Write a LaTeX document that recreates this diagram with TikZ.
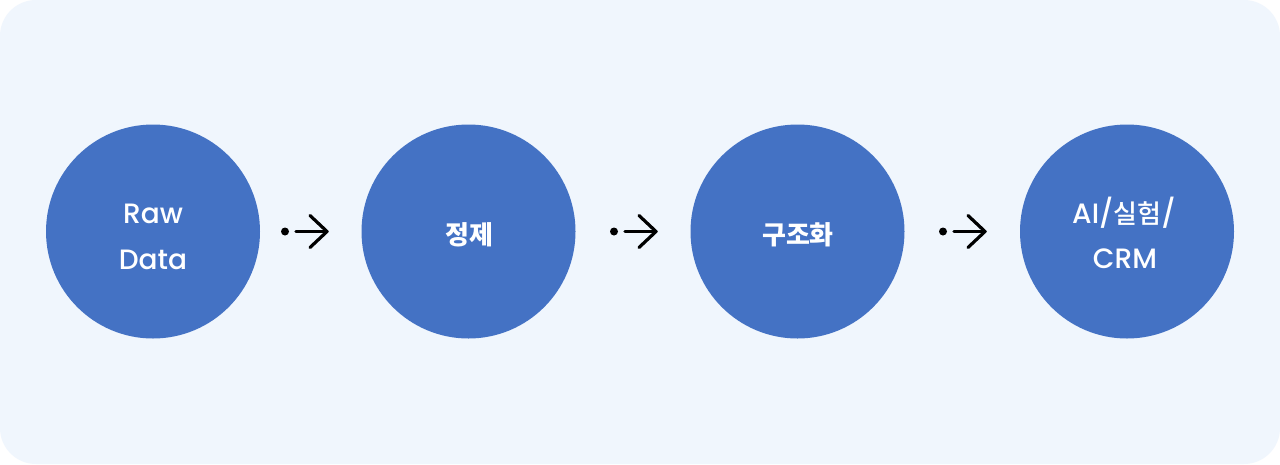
\documentclass[tikz,border=0pt]{standalone}
\usepackage{fontspec}
\setmainfont{Poppins Medium}
\newfontfamily\kr{Noto Sans CJK KR}
\newfontfamily\krm{Noto Sans CJK KR Medium}
\definecolor{bgpanel}{HTML}{F0F6FD}
\definecolor{stepblue}{HTML}{4472C4}
\begin{document}
\begin{tikzpicture}[x=1pt,y=-1pt,
  stagecircle/.style={circle,fill=stepblue,minimum size=214pt,inner sep=0pt},
  lbl/.style={text=white,anchor=base,inner sep=0pt,font=\fontsize{28}{34}\selectfont},
  krbold/.style={text=white,inner sep=0pt,font=\fontsize{26}{30}\selectfont\kr\bfseries},
  dotmark/.style={fill=black},
  flowarrow/.style={draw=black,line width=3.2pt,line cap=round,line join=round}]
\useasboundingbox (0,0) rectangle (1280,464);
\fill[white] (0,0) rectangle (1280,464);
\fill[bgpanel,rounded corners=36pt] (0,0) rectangle (1280,464);

\node[stagecircle] (raw) at (153,231.5) {};
\node[lbl] (rawa) at (153,223) {Raw};
\node[lbl] (rawb) at (153,269) {Data};
\node[stagecircle] (clean) at (468.5,231.5) {};
\node[krbold] (cleanlbl) at (469,235) {정제};
\node[stagecircle] (struct) at (797.5,231.5) {};
\node[krbold] (structlbl) at (798,235) {구조화};
\node[stagecircle] (ai) at (1127,231.5) {};
\node[lbl] (aia) at (1124,223) {AI/{\krm\fontsize{26}{30}\selectfont 실험}/};
\node[lbl] (aib) at (1125,268) {CRM};

% arrows
\foreach \x/\n in {285/a1,614/a2,943/a3}{
  \coordinate (\n d) at (\x,231.5);
  \coordinate (\n s) at (\x+11,231.5);
  \coordinate (\n t) at (\x+42,231.5);
  \coordinate (\n u) at (\x+25,215.5);
  \coordinate (\n l) at (\x+25,247.5);
  \fill[dotmark] (\n d) circle (4pt);
  \draw[flowarrow] (\n s) -- (\n t);
  \draw[flowarrow] (\n u) -- (\n t) -- (\n l);
}
\end{tikzpicture}
\end{document}
